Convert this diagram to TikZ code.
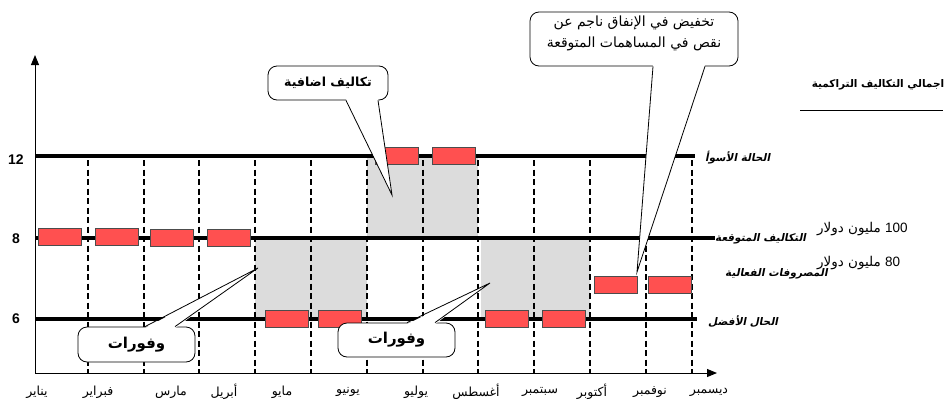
\documentclass[tikz,border=0pt]{standalone}
\usepackage{fontspec}
\setmainfont{Liberation Sans}
\newfontfamily\arabicfont[Script=Arabic]{DejaVu Sans}
\newfontfamily\arabicslant[Script=Arabic,FakeSlant=0.2]{DejaVu Sans Bold}
\TeXXeTstate=1
\usetikzlibrary{positioning,arrows.meta}
\definecolor{barred}{HTML}{FF5050}
\definecolor{shadegray}{HTML}{DCDCDC}
\newcommand{\artext}[1]{{\arabicfont\beginR #1\endR}}

\begin{document}
\begin{tikzpicture}[x=1pt,y=-1pt,
  level/.style={line width=4pt},
  monthline/.style={line width=1.5pt,dash pattern=on 6pt off 3.5pt},
  bar/.style={rectangle,draw=black!70,fill=barred,line width=0.8pt,minimum width=43pt,minimum height=17pt,inner sep=0pt},
  callbox/.style={rectangle,draw,fill=white,rounded corners=9pt,line width=0.8pt,inner sep=0pt},
  month/.style={font=\fontsize{12.5}{13}\selectfont},
  caselabel/.style={anchor=west,inner sep=0pt,font=\fontsize{10.5}{12}\selectfont}]
  \useasboundingbox (0,0) rectangle (947,410);

  % shaded savings / extra cost areas
  \fill[shadegray] (255,238) rectangle (367,319);
  \fill[shadegray] (367,156) rectangle (478,238);
  \fill[shadegray] (481,238) rectangle (590,319);

  \foreach \x in {88,144,199,255,311,367,423,478,534,590,646,692}
    \draw[monthline] (\x,160) -- (\x,373);

  \draw[level] (35,156) -- (695,156);
  \draw[level] (35,238) -- (715,238);
  \draw[level] (35,319) -- (697,319);

  \coordinate (origin) at (35,373);
  \coordinate (ytop) at (35,55);
  \coordinate (xend) at (717,373);
  \draw[line width=1pt,-{Triangle[length=10pt,width=8pt]}] (origin) -- (ytop);
  \draw[line width=1pt,-{Triangle[length=10pt,width=8pt]}] (origin) -- (xend);

  \begin{scope}[every node/.style={font=\bfseries\fontsize{14}{15}\selectfont}]
    \node (ytwelve) at (16,160) {12};
    \node (yeight) at (16,239) {8};
    \node (ysix) at (16,319) {6};
  \end{scope}

  \begin{scope}[every node/.style={bar}]
    \node (jan) at (59.5,237) {};
    \node (feb) at (116.5,237) {};
    \node (mar) at (172,238) {};
    \node (apr) at (228.5,238) {};
    \node (may) at (286.5,318.5) {};
    \node (jun) at (339.5,318.5) {};
    \node (jul) at (397,155.5) {};
    \node (aug) at (453.5,155.5) {};
    \node (sep) at (506.5,318.5) {};
    \node (oct) at (563.5,318.5) {};
    \node (nov) at (615.5,284.5) {};
    \node (dec) at (669.5,284.5) {};
  \end{scope}

  \begin{scope}[every node/.style={month}]
    \node (mjan) at (37,392) {\artext{يناير}};
    \node (mfeb) at (98,392) {\artext{فبراير}};
    \node (mmar) at (171,392) {\artext{مارس}};
    \node (mapr) at (224,392) {\artext{أبريل}};
    \node (mmay) at (282,392) {\artext{مايو}};
    \node (mjun) at (348,392) {\artext{يونيو}};
    \node (mjul) at (416,392) {\artext{يوليو}};
    \node (maug) at (476,392) {\artext{أغسطس}};
    \node (msep) at (540,392) {\artext{سبتمبر}};
    \node (moct) at (592,392) {\artext{أكتوبر}};
    \node (mnov) at (650,392) {\artext{نوفمبر}};
    \node (mdec) at (709,392) {\artext{ديسمبر}};
  \end{scope}

  % callouts
  \node[callbox,minimum width=120pt,minimum height=34pt] (extra) at (328,83)
    {\artext{\bfseries\fontsize{12.5}{14}\selectfont تكاليف اضافية}};
  \coordinate (extratip) at (392,195);
  \fill[white] ([xshift=18pt,yshift=1.5pt]extra.south) -- (extratip) -- ([xshift=50pt,yshift=1.5pt]extra.south) -- cycle;
  \draw[line width=0.8pt] ([xshift=18pt]extra.south) -- (extratip) -- ([xshift=50pt]extra.south);

  \node[callbox,minimum width=208pt,minimum height=54pt] (reduce) at (634,39) {};
  \node[align=center,font=\fontsize{14}{21}\selectfont] (reducetext) at (634,33)
    {\artext{تخفيض في الإنفاق ناجم عن}\\ \artext{نقص في المساهمات المتوقعة}};
  \coordinate (reducetip) at (637,272);
  \fill[white] ([xshift=19pt,yshift=1.5pt]reduce.south) -- (reducetip) -- ([xshift=71pt,yshift=1.5pt]reduce.south) -- cycle;
  \draw[line width=0.8pt] ([xshift=19pt]reduce.south) -- (reducetip) -- ([xshift=71pt]reduce.south);

  \node[callbox,minimum width=117pt,minimum height=35pt] (saveleft) at (136.5,344.5)
    {\artext{\bfseries\fontsize{15}{16}\selectfont وفورات}};
  \coordinate (savelefttip) at (258,268);
  \fill[white] ([xshift=8.5pt,yshift=-1.5pt]saveleft.north) -- (savelefttip) -- ([xshift=38.5pt,yshift=-1.5pt]saveleft.north) -- cycle;
  \draw[line width=0.8pt] ([xshift=8.5pt]saveleft.north) -- (savelefttip) -- ([xshift=38.5pt]saveleft.north);

  \node[callbox,minimum width=117pt,minimum height=34pt] (savemid) at (396.5,340)
    {\artext{\bfseries\fontsize{15}{16}\selectfont وفورات}};
  \coordinate (savemidtip) at (490,283);
  \fill[white] ([xshift=10.5pt,yshift=-1.5pt]savemid.north) -- (savemidtip) -- ([xshift=38.5pt,yshift=-1.5pt]savemid.north) -- cycle;
  \draw[line width=0.8pt] ([xshift=10.5pt]savemid.north) -- (savemidtip) -- ([xshift=38.5pt]savemid.north);

  % right hand labels
  \begin{scope}[every node/.style={caselabel}]
    \node (worst) at (705,158) {{\arabicslant\beginR الحالة الأسوأ\endR}};
    \node (planned) at (715,239) {{\arabicslant\beginR التكاليف المتوقعة\endR}};
    \node (actual) at (725,274) {{\arabicslant\beginR المصروفات الفعالية\endR}};
    \node (best) at (708,321) {{\arabicslant\beginR الحال الأفضل\endR}};
  \end{scope}
  \begin{scope}[every node/.style={anchor=west,inner sep=0pt,font=\fontsize{13.5}{15}\selectfont}]
    \node (hundred) at (817,229) {\artext{\beginL{\rmfamily 100}\endL{} مليون دولار}};
    \node (eighty) at (817,263) {\artext{\beginL{\rmfamily 80}\endL{} مليون دولار}};
  \end{scope}

  \node[font=\bfseries\fontsize{10.5}{12}\selectfont] (legend) at (878,85) {\artext{اجمالي التكاليف التراكمية}};
  \draw[line width=0.8pt] (800,110) -- (943,110);
\end{tikzpicture}
\end{document}
